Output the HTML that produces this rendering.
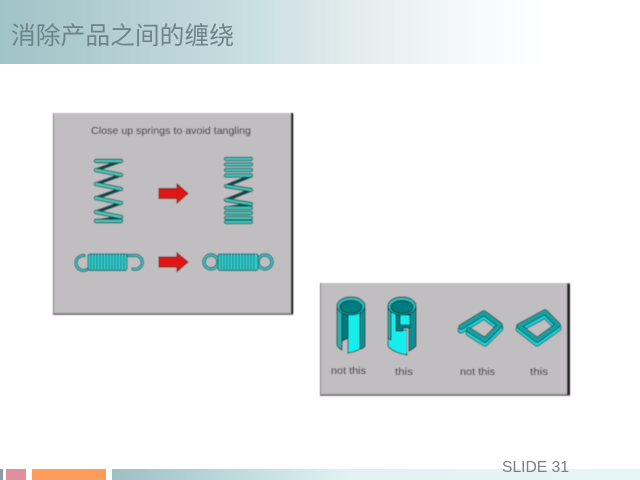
<!DOCTYPE html>
<html>
<head>
<meta charset="utf-8">
<style>
html,body{margin:0;padding:0;background:#fff}
body{width:640px;height:480px;overflow:hidden;position:relative}
svg{position:absolute;left:0;top:0}
</style>
</head>
<body>
<svg width="640" height="480" viewBox="0 0 640 480" xmlns="http://www.w3.org/2000/svg">
<defs>
<linearGradient id="h" x1="0" x2="1" y1="0" y2="0">
<stop offset="0" stop-color="#9fc3c7"/><stop offset=".2" stop-color="#b5d0d3"/><stop offset=".4" stop-color="#cadfe2"/><stop offset=".55" stop-color="#e2ecec"/><stop offset=".72" stop-color="#f4f8fa"/><stop offset=".85" stop-color="#fff"/><stop offset="1" stop-color="#fff"/>
</linearGradient>
<linearGradient id="f" x1="0" x2="1" y1="0" y2="0">
<stop offset="0" stop-color="#9dbfc4"/><stop offset=".25" stop-color="#c0dcdf"/><stop offset=".45" stop-color="#e2f2f4"/><stop offset="1" stop-color="#e6f4f5"/>
</linearGradient>
<filter id="b" x="-5%" y="-5%" width="110%" height="110%"><feGaussianBlur stdDeviation="0.45"/></filter>
</defs>

<!-- header -->
<rect x="0" y="0" width="640" height="64" fill="url(#h)"/>
<text x="11" y="44" font-family="'Liberation Sans','Noto Sans CJK SC',sans-serif" font-size="24.7" fill="#6d8488" textLength="223" lengthAdjust="spacingAndGlyphs">消除产品之间的缠绕</text>

<!-- footer -->
<rect x="0" y="469" width="3" height="11" fill="#8f9bab"/>
<rect x="6" y="469" width="20" height="11" fill="#e08f9d"/>
<rect x="32" y="469" width="74" height="11" fill="#fd9c5d"/>
<rect x="112" y="469" width="528" height="11" fill="url(#f)"/>
<text x="502" y="472" font-family="'Liberation Sans',sans-serif" font-size="15.5" fill="#7a7f82" textLength="67" lengthAdjust="spacingAndGlyphs">SLIDE 31</text>

<g filter="url(#b)">
<!-- panel 1 -->
<rect x="53" y="113" width="240" height="202" fill="#7a7a7a"/>
<rect x="54" y="113" width="238" height="200" fill="#c0bec0"/>
<rect x="291" y="113" width="2.2" height="201" fill="#151515"/>
<text x="91" y="134" font-family="'Liberation Sans',sans-serif" font-size="10.5" fill="#1c1c1c" textLength="160" lengthAdjust="spacingAndGlyphs">Close up springs to avoid tangling</text>

<!-- spring 1 -->
<g fill="none" stroke-linecap="round" stroke-linejoin="round">
<path d="M121 161 L96 170 M121 175 L96 184 M121 189 L96 198 M121 203 L96 212 M121 217 L96 221" stroke="#0a4548" stroke-width="3.4"/>
<path d="M96 161 H121 M96 170 L121 175 M96 184 L121 189 M96 198 L121 203 M96 212 L121 217 M96 221 H121" stroke="#07595b" stroke-width="4.4"/>
<path d="M96 161 H121 M96 170 L121 175 M96 184 L121 189 M96 198 L121 203 M96 212 L121 217 M96 221 H121" stroke="#4fc4b4" stroke-width="2.6"/>
</g>

<!-- spring 2 -->
<g fill="none" stroke-linecap="round" stroke-linejoin="round">
<path d="M251 176 L226 186 M251 190 L226 200 M251 204 L226 208" stroke="#0a4548" stroke-width="3.4"/>
<path d="M226 159 H251 M226 164.500 H251 M226 170 H251 M226 175.500 H251 M226 186 L251 190 M226 200 L251 204 M226 208 H251 M226 213 H251 M226 218 H251 M226 222 H251" stroke="#07595b" stroke-width="4.2"/>
<path d="M226 159 H251 M226 164.500 H251 M226 170 H251 M226 175.500 H251 M226 186 L251 190 M226 200 L251 204 M226 208 H251 M226 213 H251 M226 218 H251 M226 222 H251" stroke="#45c4b8" stroke-width="2.4"/>
</g>

<!-- arrows -->
<path d="M159 188.500 H177 V184 L188 193.500 L177 203 V198.500 H159 Z" fill="#e01414" stroke="#7a1010" stroke-width="0.9"/>
<path d="M159 257 H177 V253 L188 262 L177 271.500 V267 H159 Z" fill="#e01414" stroke="#7a1010" stroke-width="0.9"/>

<!-- horizontal spring open hooks -->
<g fill="none" stroke-linecap="round">
<path d="M84 255.500 A7.500 7.500 0 1 0 88 269" stroke="#0b5e62" stroke-width="3.200"/>
<path d="M84 255.500 A7.500 7.500 0 1 0 88 269" stroke="#3dc0c0" stroke-width="1.600"/>
<path d="M127 255.500 H134 A7 7 0 1 1 133 269" stroke="#0b5e62" stroke-width="3.200"/>
<path d="M127 255.500 H134 A7 7 0 1 1 133 269" stroke="#3dc0c0" stroke-width="1.600"/>
</g>
<rect x="88" y="254" width="39" height="16.500" rx="2" fill="#35cccc" stroke="#0b5e62" stroke-width="1"/>
<path d="M91 254V270.500M94 254V270.500M97 254V270.500M100 254V270.500M103 254V270.500M106 254V270.500M109 254V270.500M112 254V270.500M115 254V270.500M118 254V270.500M121 254V270.500M124 254V270.500" stroke="#0d6a6e" stroke-width="0.8"/>

<!-- horizontal spring closed rings -->
<g fill="none">
<circle cx="211" cy="262" r="7" stroke="#0b5e62" stroke-width="3.400"/>
<circle cx="211" cy="262" r="7" stroke="#3dc0c0" stroke-width="1.800"/>
<circle cx="265" cy="262" r="7" stroke="#0b5e62" stroke-width="3.400"/>
<circle cx="265" cy="262" r="7" stroke="#3dc0c0" stroke-width="1.800"/>
</g>
<rect x="218" y="254" width="40" height="16.500" rx="2" fill="#35cccc" stroke="#0b5e62" stroke-width="1"/>
<path d="M221 254V270.500M224 254V270.500M227 254V270.500M230 254V270.500M233 254V270.500M236 254V270.500M239 254V270.500M242 254V270.500M245 254V270.500M248 254V270.500M251 254V270.500M254 254V270.500" stroke="#0d6a6e" stroke-width="0.8"/>

<!-- panel 2 -->
<rect x="320" y="283" width="250" height="113" fill="#7c7c7c"/>
<rect x="321" y="283" width="246" height="111" fill="#c0bec0"/>
<rect x="567" y="284" width="3" height="111" fill="#222"/>

<!-- cylinder 1 -->
<g stroke="#083c40" stroke-width="1" stroke-linejoin="round">
<path d="M337 306 V345 Q338 348 342 350 V306 Z" fill="#2ab0b0"/>
<path d="M342 306 H348 V338 L342 341 Z" fill="#007c7e"/>
<path d="M348 353 V314 Q355 314 360 311 V349 Q355 352 348 353 Z" fill="#14eeee"/>
<path d="M360 311 Q363 309 365 305 V346 Q363 349 360 349 Z" fill="#0b8f92"/>
<ellipse cx="351" cy="306" rx="14" ry="9" fill="#30bcbc"/>
<ellipse cx="351" cy="307" rx="11" ry="6.500" fill="#007c7e"/>
</g>

<!-- cylinder 2 -->
<g stroke="#083c40" stroke-width="1" stroke-linejoin="round">
<path d="M388 306 V346 Q392 352 407 355 V330 H396 V306 Z" fill="#14eeee"/>
<path d="M407 328 H410 V351 L407 353 Z" fill="#c0bec0" stroke="none"/>
<path d="M410 306 H416 V346 Q413 349 409 351 V328 H410 Z" fill="#0b8f92"/>
<path d="M396 310 H410 V328 H403 V331 H396 Z" fill="#007c7e"/>
<rect x="400" y="315" width="10" height="10" fill="#14eeee"/>
<path d="M388 306 V338 L391 340 V306 Z" fill="#2ab0b0"/>
<ellipse cx="402" cy="306" rx="14" ry="9" fill="#30bcbc"/>
<ellipse cx="402" cy="307" rx="11" ry="6.500" fill="#007c7e"/>
</g>

<!-- square ring not this -->
<g fill="none" stroke-linejoin="round" stroke-linecap="round">
<path d="M461 330 L484 316 L500 328 L485 343 L469 333" stroke="#083c40" stroke-width="7"/>
<path d="M461 330 L484 316 L500 328 L485 343 L469 333" stroke="#16d2d6" stroke-width="5.500"/>
<path d="M461 327 L484 313 L500 325 L485 340 L469 330" stroke="#083c40" stroke-width="5.500"/>
<path d="M461 327 L484 313 L500 325 L485 340 L469 330" stroke="#17a0a2" stroke-width="4"/>
</g>

<!-- square ring this -->
<g fill="none" stroke-linejoin="round">
<path d="M519 329 L545 315 L558 328 L537 343 Z" stroke="#083c40" stroke-width="7"/>
<path d="M519 329 L545 315 L558 328 L537 343 Z" stroke="#16d2d6" stroke-width="5.500"/>
<path d="M519 326 L545 312 L558 325 L537 340 Z" stroke="#083c40" stroke-width="5.500"/>
<path d="M519 326 L545 312 L558 325 L537 340 Z" stroke="#17a0a2" stroke-width="4"/>
</g>

<g font-family="'Liberation Sans',sans-serif" font-size="10.500" fill="#1c1c1c">
<text x="331" y="374" textLength="35" lengthAdjust="spacingAndGlyphs">not this</text>
<text x="395" y="375" textLength="18" lengthAdjust="spacingAndGlyphs">this</text>
<text x="460" y="375" textLength="35" lengthAdjust="spacingAndGlyphs">not this</text>
<text x="530" y="375" textLength="18" lengthAdjust="spacingAndGlyphs">this</text>
</g>
</g>
</svg>
</body>
</html>
